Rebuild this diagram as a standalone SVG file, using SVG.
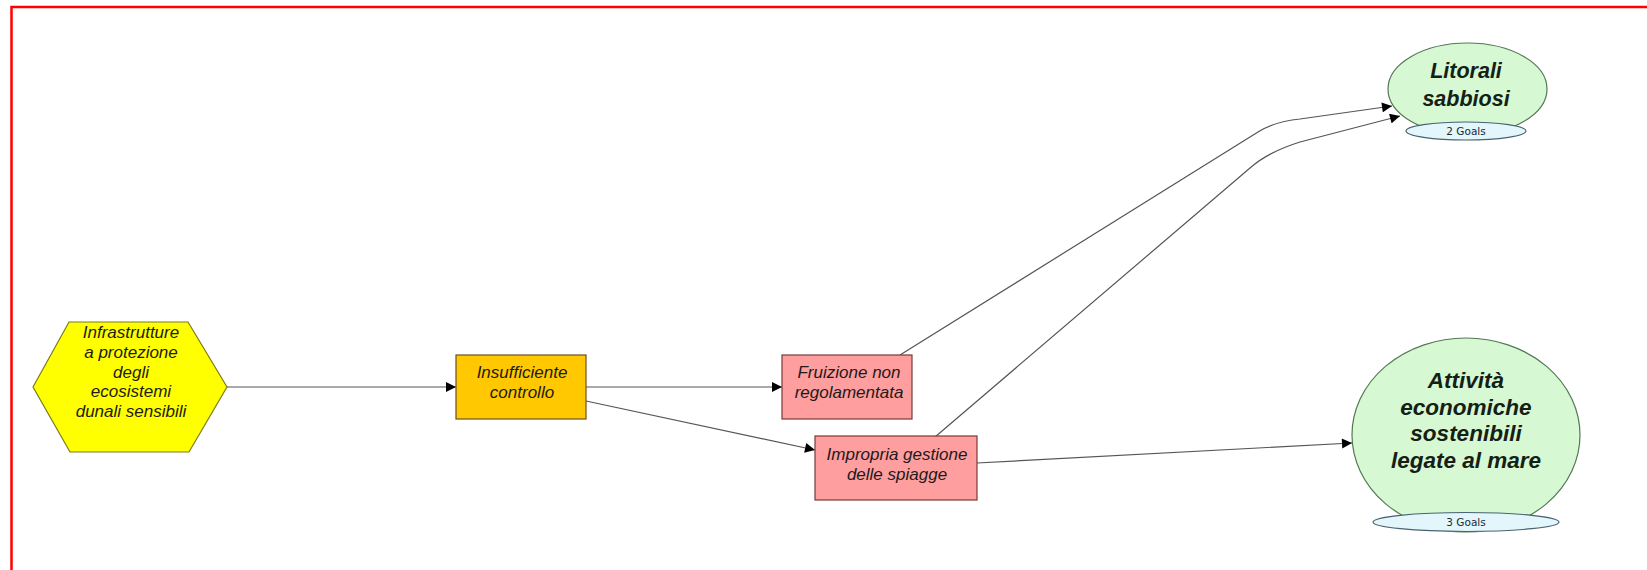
<svg xmlns="http://www.w3.org/2000/svg" width="1647" height="570" viewBox="0 0 1647 570">
<style>
.t{font-family:"Liberation Sans",Arial,sans-serif;font-style:italic;font-size:17px;fill:#221a1a;text-anchor:middle}
.g{font-family:"Liberation Sans",Arial,sans-serif;font-style:italic;font-weight:bold;fill:#152015;text-anchor:middle}
.s{font-family:"DejaVu Sans",sans-serif;font-size:10.5px;fill:#1a2a3a;text-anchor:middle}
.c{fill:none;stroke:#555;stroke-width:1.2}
.goal{fill:#D6F8D2;stroke:#557755;stroke-width:1.2}
.cnt{fill:#E2F6FB;stroke:#4a6272;stroke-width:1.2}
.pink{fill:#FF9E9E;stroke:#7a3a3a;stroke-width:1.2}
</style>
<defs>
<marker id="ah" viewBox="0 0 10 10" refX="10" refY="5" markerWidth="11" markerHeight="10" markerUnits="userSpaceOnUse" orient="auto">
<path d="M0,0 L10,5 L0,10 z" fill="#000"/>
</marker>
</defs>
<rect x="11.5" y="7" width="1660" height="600" fill="#fff" stroke="#ff0000" stroke-width="2.5"/>
<g id="connectors">
<path class="c" d="M227,387 L456,387" marker-end="url(#ah)"/>
<path class="c" d="M586,387 L782,387" marker-end="url(#ah)"/>
<path class="c" d="M586,401 L815,450" marker-end="url(#ah)"/>
<path class="c" d="M900,355 L1258,132 Q1276,121 1300,119 L1392,106" marker-end="url(#ah)"/>
<path class="c" d="M935,437 L1250,168 Q1268,152 1300,142 L1400,116" marker-end="url(#ah)"/>
<path class="c" d="M977,463 L1352,443" marker-end="url(#ah)"/>
</g>
<g id="hex">
<polygon points="33,387 69,322 188,322 227,387 189,452 70,452" fill="#FFFF00" stroke="#7a7a20" stroke-width="1.2"/>
<text class="t" x="131" y="338">Infrastrutture</text>
<text class="t" x="131" y="358">a protezione</text>
<text class="t" x="131" y="377.5">degli</text>
<text class="t" x="131" y="397">ecosistemi</text>
<text class="t" x="131" y="417">dunali sensibili</text>
</g>
<g id="insufficiente">
<rect x="456" y="355" width="130" height="64" fill="#FFC800" stroke="#6a5020" stroke-width="1.2"/>
<text class="t" x="522" y="378">Insufficiente</text>
<text class="t" x="522" y="398">controllo</text>
</g>
<g id="fruizione">
<rect class="pink" x="782" y="355" width="130" height="64"/>
<text class="t" x="849" y="378">Fruizione non</text>
<text class="t" x="849" y="398">regolamentata</text>
</g>
<g id="impropria">
<rect class="pink" x="815" y="436" width="162" height="64"/>
<text class="t" x="897" y="460">Impropria gestione</text>
<text class="t" x="897" y="480">delle spiagge</text>
</g>
<g id="litorali">
<ellipse class="goal" cx="1467.5" cy="89" rx="79.5" ry="46"/>
<text class="g" x="1466" y="78" font-size="21.5">Litorali</text>
<text class="g" x="1466" y="106" font-size="21.5">sabbiosi</text>
<ellipse class="cnt" cx="1466" cy="131" rx="60" ry="9"/>
<text class="s" x="1466" y="135">2 Goals</text>
</g>
<g id="attivita">
<ellipse class="goal" cx="1466" cy="435" rx="114" ry="97"/>
<text class="g" x="1466" y="388" font-size="22.5">Attività</text>
<text class="g" x="1466" y="414.5" font-size="22.5">economiche</text>
<text class="g" x="1466" y="441" font-size="22.5">sostenibili</text>
<text class="g" x="1466" y="467.5" font-size="22.5">legate al mare</text>
<ellipse class="cnt" cx="1466" cy="522" rx="93" ry="9.5"/>
<text class="s" x="1466" y="526">3 Goals</text>
</g>
</svg>
